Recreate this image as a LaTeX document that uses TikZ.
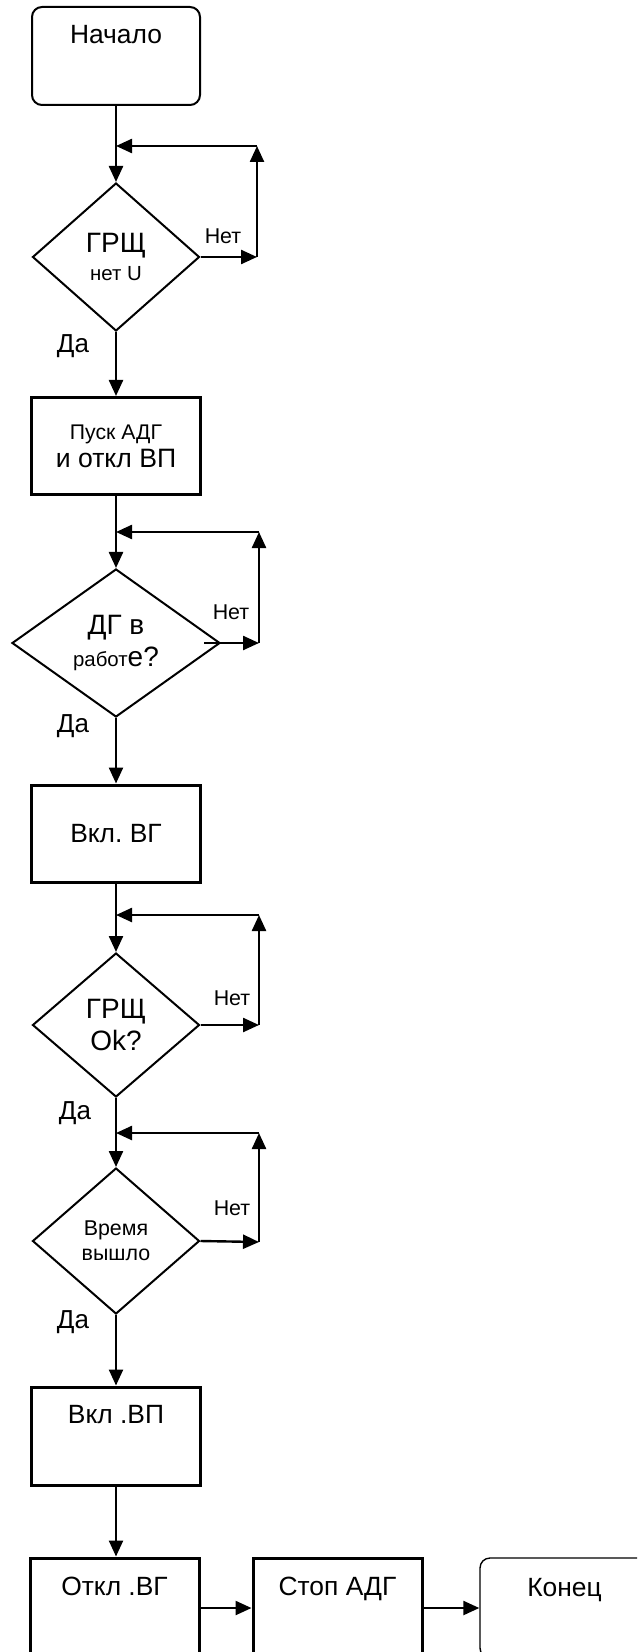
\documentclass[tikz,border=0pt]{standalone}
\usepackage{fontspec}
\setmainfont{Liberation Sans}
\usepackage{tikz}
\usetikzlibrary{shapes.geometric, arrows.meta}
\frenchspacing
\newcommand{\szbig}{\fontsize{13.2}{15}\selectfont}
\newcommand{\szdia}{\fontsize{14}{16}\selectfont}
\newcommand{\szmid}{\fontsize{10.7}{12.5}\selectfont}
\newcommand{\szsmall}{\fontsize{10.2}{12}\selectfont}

\begin{document}
\begin{tikzpicture}[x=0.5pt, y=-0.5pt,
        terminal/.style={draw, rounded corners=5pt, line width=1pt, minimum width=84pt, minimum height=49pt,
                    text height=9pt, text depth=21pt, font=\szbig},
        procbox/.style={draw, line width=1.5pt, minimum width=84.5pt, minimum height=48.5pt,
                    align=center, font=\szbig},
        topbox/.style={procbox, minimum height=50pt, text height=9pt, text depth=22pt},
        decision/.style={draw, diamond, line width=1pt, inner sep=0pt, align=center, font=\szdia},
        flow/.style={-{Triangle[length=8pt,width=7pt]}, line width=1.2pt},
        lbl/.style={inner sep=0pt, font=\szmid}]
        \useasboundingbox (0,0) rectangle (637,1652);
        \clip (0,0) rectangle (637,1652);
        \node[terminal] (start) at (116,56) {Начало};
        \node[decision, minimum width=83.5pt, minimum height=74pt] (d1) at (116,257) {ГРЩ\\[-2pt]{\szsmall нет U}};
        \node[procbox] (pusk) at (116,446) {{\fontsize{10.6}{12}\selectfont Пуск АДГ}\\[-1pt]{\fontsize{13.3}{15}\selectfont и откл ВП}};
        \node[decision, minimum width=104pt, minimum height=74pt] (d2) at (116,643) {ДГ в\\{\szsmall работ}е?};
        \node[procbox] (vklvg) at (116,833.5) {Вкл. ВГ};
        \node[decision, minimum width=83.5pt, minimum height=72pt] (d3) at (116,1025) {ГРЩ\\Ok?};
        \node[decision, minimum width=83.5pt, minimum height=73pt, font=\szmid] (d4) at (116,1241) {Время\\вышло};
        \node[topbox, minimum height=49pt] (vklvp) at (116,1436) {Вкл .ВП};
        \node[topbox] (otklvg) at (114.5,1608) {Откл .ВГ};
        \node[topbox] (stop) at (337.5,1608) {Стоп АДГ};
        \node[terminal, line width=0.7pt, minimum width=84.5pt, minimum height=50pt] (end) at (564.5,1608) {Конец};
        % main line
        \draw[flow] (start) -- (d1);
        \draw[flow] (d1) -- (pusk);
        \draw[flow] (pusk) -- (d2);
        \draw[flow] (d2) -- (vklvg);
        \draw[flow] (vklvg) -- (d3);
        \draw[flow] (d3) -- (d4);
        \draw[flow] (d4) -- (vklvp);
        \draw[flow] (vklvp) -- (vklvp |- otklvg.north);
        \draw[flow] (otklvg.east) -- (stop.west);
        \draw[flow] (stop.east) -- (end.west);
        % waiting loops
        \coordinate (r1) at (257,257);
        \coordinate (t1) at (257,146);
        \draw[flow] (d1.east) -- (r1);
        \draw[flow] (r1) -- (t1);
        \draw[flow] (t1) -- (t1 -| d1.north);
        \coordinate (r2) at (259,643);
        \coordinate (t2) at (259,532);
        \draw[flow] ([xshift=-8.5pt]d2.east) -- (r2);
        \draw[flow] (r2) -- (t2);
        \draw[flow] (t2) -- (t2 -| d2.north);
        \coordinate (r3) at (259,1025);
        \coordinate (t3) at (259,915);
        \draw[flow] (d3.east) -- (r3);
        \draw[flow] (r3) -- (t3);
        \draw[flow] (t3) -- (t3 -| d3.north);
        \coordinate (r4) at (259,1242);
        \coordinate (t4) at (259,1133);
        \draw[flow] (d4.east) -- (r4);
        \draw[flow] (r4) -- (t4);
        \draw[flow] (t4) -- (t4 -| d4.north);
        % labels
        \node[lbl] (no1) at (223,236) {Нет};
        \node[lbl] (no2) at (231,612) {Нет};
        \node[lbl] (no3) at (232,998) {Нет};
        \node[lbl] (no4) at (232,1208) {Нет};
        \node[lbl, font=\fontsize{13}{15}\selectfont] (yes1) at (73,346) {Да};
        \node[lbl, font=\fontsize{13}{15}\selectfont] (yes2) at (73,726) {Да};
        \node[lbl, font=\fontsize{13}{15}\selectfont] (yes3) at (75,1113) {Да};
        \node[lbl, font=\fontsize{13}{15}\selectfont] (yes4) at (73,1322) {Да};
\end{tikzpicture}
\end{document}
